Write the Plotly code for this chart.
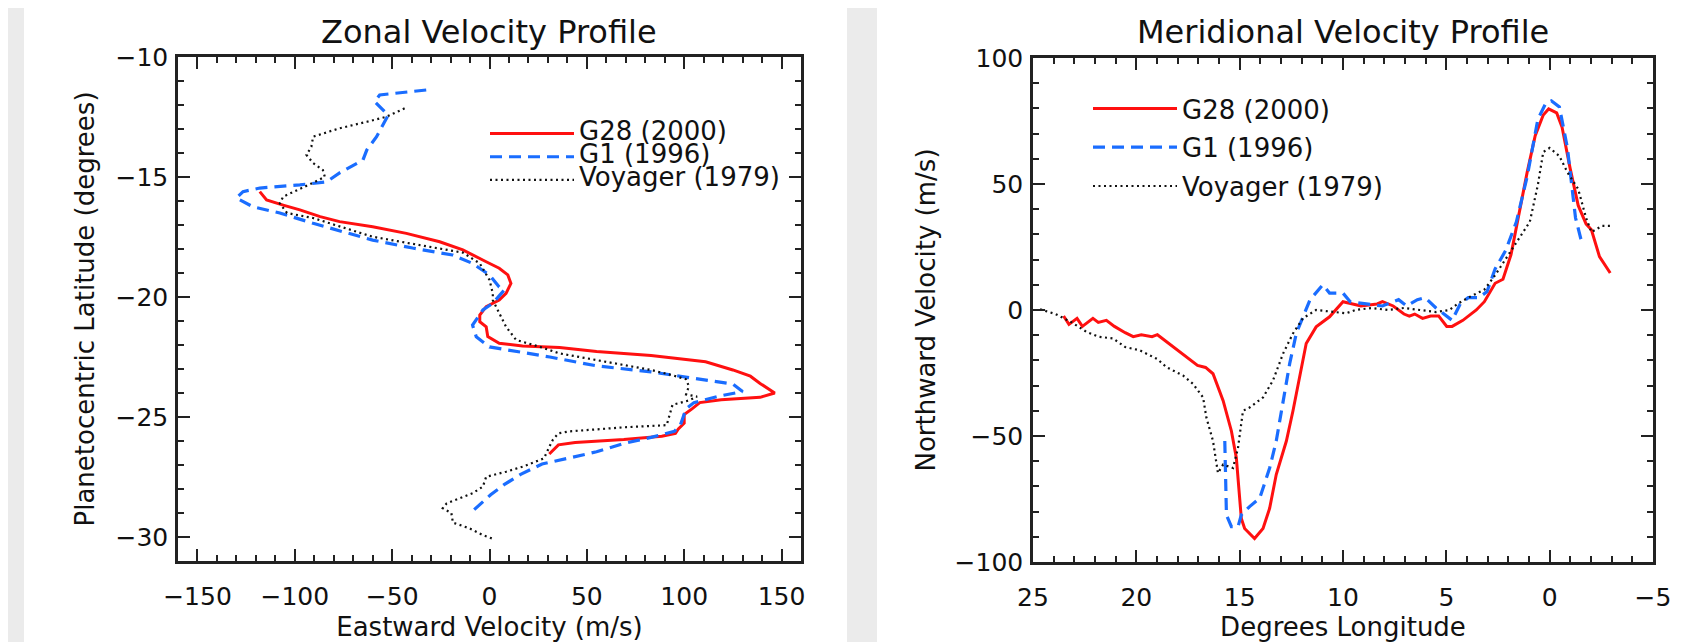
import plotly.graph_objects as go

# ---------------- Data: Zonal velocity profile (left) ----------------
g28_zonal_v = [-118, -114.5, -106, -97.4, -87, -77, -60, -42.7, -25.6, -13.7,
               -1.7, 5, 9.4, 11, 8.5, 5, -1.7, -5, -5, -1.7,
               -0.9, 5, 17, 36, 55, 83, 111, 125, 134, 139,
               146.5, 139, 119, 108, 104, 100, 100, 97, 95.5, 88.5,
               69, 44, 35.4, 32.7, 30.7]
g28_zonal_lat = [-15.61, -15.96, -16.17, -16.37, -16.65, -16.86, -17.07, -17.35, -17.7, -18.04,
                 -18.53, -18.8, -19.08, -19.43, -19.85, -20.13, -20.4, -20.75, -21.03, -21.24,
                 -21.65, -21.93, -22.04, -22.1, -22.27, -22.44, -22.7, -23.04, -23.3, -23.6,
                 -24.0, -24.18, -24.28, -24.4, -24.66, -24.9, -25.26, -25.5, -25.68, -25.8,
                 -25.94, -26.06, -26.16, -26.37, -26.54]

g1_zonal_v = [-32.5, -56.4, -59, -56.4, -52, -58, -63, -65, -77, -83.7,
              -97.4, -118, -126.6, -130, -121.5, -107.7, -90.6, -60, -39.5, -19,
              -8.7, 0, 5, 7.7, 1.7, -3.4, -8.7, -6.8, 0, 31,
              55, 83, 105, 125, 130, 119, 105, 101, 98, 95,
              83, 69, 55, 41, 27, 16, 7.5, 0.6, -5, -9.8]
g1_zonal_lat = [-11.375, -11.58, -11.86, -12.07, -12.42, -13.32, -13.87, -14.29, -14.83, -15.2,
                -15.33, -15.46, -15.61, -15.88, -16.24, -16.5, -16.93, -17.63, -17.96, -18.25,
                -18.6, -19.08, -19.58, -19.7, -20.26, -20.54, -21.17, -21.66, -22.08, -22.5,
                -22.87, -23.12, -23.38, -23.63, -23.94, -24.11, -24.4, -24.66, -25.34, -25.6,
                -25.85, -26.1, -26.45, -26.7, -26.96, -27.39, -27.82, -28.24, -28.67, -29.0]

voy_zonal_v = [-43.6, -53, -63, -77, -90.6, -91.5, -94, -90.6, -85.6, -84.6,
               -90.6, -99, -106, -107.7, -106, -104, -90.6, -77, -60, -42.7,
               -25.6, -13.7, -5, 0, 1.7, 1.7, 5, 8.5, 13.7, 25.6,
               36, 60, 83, 94, 101, 102.4, 101, 106.6, 102, 94,
               92.7, 91, 69, 41, 35.4, 32.6, 31, 28, 17, 8.5,
               -1.7, -3.4, -8.7, -15.4, -22, -24, -19.6, -18.8, -10.3, -3.4,
               2.6]
voy_zonal_lat = [-12.14, -12.49, -12.7, -12.97, -13.32, -13.74, -14.08, -14.42, -14.71, -14.99,
                 -15.24, -15.54, -15.82, -16.1, -16.3, -16.5, -16.71, -17.07, -17.49, -17.74,
                 -17.97, -18.15, -18.6, -19.29, -19.85, -20.13, -20.67, -21.24, -21.79, -22.07,
                 -22.35, -22.7, -23.04, -23.26, -23.43, -23.72, -24.06, -24.15, -24.32, -24.49,
                 -24.91, -25.34, -25.43, -25.6, -25.68, -25.94, -26.2, -26.72, -27.07, -27.28,
                 -27.49, -27.9, -28.18, -28.39, -28.6, -28.8, -29.0, -29.4, -29.64, -29.92,
                 -30.1]

# ---------------- Data: Meridional velocity profile (right) ----------------
g28_merid_lon = [23.52, 23.26, 22.87, 22.61, 22.1, 21.84, 21.45, 21.06, 20.54, 20.15,
                 19.76, 19.24, 18.98, 18.46, 17.94, 17.56, 17.04, 16.65, 16.29, 15.8,
                 15.4, 15.16, 15.0, 14.92, 14.76, 14.28, 13.87, 13.55, 13.23, 12.74,
                 12.42, 12.1, 11.78, 11.3, 10.65, 10.0, 9.13, 8.35, 8.09, 7.57,
                 7.05, 6.79, 6.53, 6.15, 5.76, 5.37, 4.98, 4.72, 4.2, 3.55,
                 3.16, 2.64, 2.26, 1.87, 1.48, 1.09, 0.7, 0.31, 0.05, -0.34,
                 -0.6, -0.99, -1.38, -1.76, -2.02, -2.41, -2.93]
g28_merid_v = [-2.4, -5.7, -3.3, -6.5, -3.3, -4.9, -4.1, -6.5, -9, -10.6,
               -9.8, -10.6, -9.8, -13, -16.3, -18.7, -22, -22.8, -25.3, -36,
               -48, -58.7, -74.7, -82.7, -86.7, -90.7, -86.7, -78.7, -65.3, -52,
               -40, -26.7, -13.3, -6.7, -2.7, 3.3, 1.6, 2.4, 3.3, 1.6,
               -1.6, -2.4, -1.6, -3.3, -2.4, -2.4, -6.5, -6.5, -4.1, 0,
               3.3, 10.6, 12.2, 22, 38.3, 54.6, 69.2, 77.4, 79.8, 78.2,
               72.5, 56.2, 41.5, 34.2, 31.8, 21.2, 14.7]

g1_merid_lon = [15.72, 15.64, 15.4, 15.08, 14.92, 14.52, 14.03, 13.55, 13.23, 12.9,
                12.58, 12.26, 11.94, 11.6, 10.98, 10.65, 10.0, 9.65, 8.87, 8.09,
                7.31, 6.92, 6.4, 6.02, 5.5, 4.72, 4.33, 3.94, 3.42, 3.03,
                2.64, 2.13, 1.61, 1.09, 0.57, 0.18, -0.08, -0.47, -0.86, -1.12,
                -1.25, -1.5, -1.63]
g1_merid_v = [-52, -81.3, -86, -86, -81.3, -78, -74.7, -62.7, -52, -36,
              -21.3, -9.3, -2.7, 4, 10, 6.7, 6.7, 3.3, 2.4, 1.6,
              4.1, 1.6, 4.1, 4.9, 0.8, -4.1, 2.4, 4.9, 4.9, 7.3,
              16.3, 23.6, 35, 52.9, 75.7, 82.2, 83, 80.6, 64.3, 44.8,
              36.6, 28.5, 26.1]

voy_merid_lon = [24.66, 23.91, 23.13, 22.41, 21.84, 21.12, 20.54, 19.83, 18.98, 18.54,
                 17.74, 17.26, 16.77, 16.61, 16.29, 16.05, 15.8, 15.32, 15.08, 14.84,
                 14.52, 13.87, 13.39, 12.9, 12.42, 11.94, 11.3, 10.49, 9.85, 9.39,
                 8.61, 7.83, 7.05, 6.28, 5.5, 4.85, 4.46, 3.94, 3.16, 2.64,
                 1.99, 1.48, 0.96, 0.57, 0.31, 0, -0.47, -0.86, -1.38, -1.76,
                 -2.02, -2.54, -2.93]
voy_merid_v = [0.3, -1.6, -4.9, -8.7, -10.6, -11.3, -14.7, -16, -19.5, -22.7,
               -26, -29.3, -34.7, -42.7, -52, -64.7, -61.3, -62.7, -54.7, -40,
               -38.7, -34.7, -28, -17.3, -9.3, -3.3, 0, -0.7, -1.3, 0,
               0.8, 0, 0.8, 0, -0.8, 0, 2.4, 4.9, 8.1, 13.8,
               22, 28.5, 35, 49.7, 62.7, 64.3, 61.1, 54.6, 48, 36.6,
               30.9, 33.4, 33.4]

series_names = ["G28 (2000)", "G1 (1996)", "Voyager (1979)"]
zonal_xticks = [-150, -100, -50, 0, 50, 100, 150]
zonal_yticks = [-30, -25, -20, -15, -10]
merid_xticks = [25, 20, 15, 10, 5, 0, -5]
merid_yticks = [-100, -50, 0, 50, 100]

# ---------------- Styling ----------------
FONT = "DejaVu Sans"
RED = "#ff1010"
BLUE = "#1a6dff"
BLACK = "#111111"
AXC = "#222222"
OFF = 8                      # page body margin of the written html
W, H = 1681 - OFF, 642 - OFF

styles = [
    dict(color=RED, width=3, dash="solid"),
    dict(color=BLUE, width=3.2, dash="12px,7px"),
    dict(color=BLACK, width=2.2, dash="2px,3.5px"),
]

fig = go.Figure()

zonal = [(g28_zonal_v, g28_zonal_lat), (g1_zonal_v, g1_zonal_lat), (voy_zonal_v, voy_zonal_lat)]
merid = [(g28_merid_lon, g28_merid_v), (g1_merid_lon, g1_merid_v), (voy_merid_lon, voy_merid_v)]

for i, (xs, ys) in enumerate(zonal):
    fig.add_trace(go.Scatter(
        x=xs, y=ys, mode="lines",
        name='<span style="font-size:26px">%s</span>' % series_names[i],
        line=styles[i], xaxis="x", yaxis="y",
        legend="legend", legendgroup="a%d" % i))
for i, (xs, ys) in enumerate(merid):
    fig.add_trace(go.Scatter(
        x=xs, y=ys, mode="lines", name=series_names[i],
        line=styles[i], xaxis="x2", yaxis="y2",
        legend="legend2", legendgroup="b%d" % i))


def px_x(p):
    return (p - OFF) / W


def px_y(p):
    return 1 - (p - OFF) / H


axis_common = dict(
    showline=True, linecolor=AXC, linewidth=2.5, mirror="allticks",
    ticks="inside", ticklen=12, tickwidth=2, tickcolor=AXC,
    showgrid=False, zeroline=False, automargin=False,
    tickfont=dict(family=FONT, size=25, color="#111111"),
    title_font=dict(family=FONT, size=26, color="#111111"),
)

fig.update_layout(
    width=W, height=H,
    margin=dict(l=0, r=0, t=0, b=0),
    paper_bgcolor="#ebebeb",
    plot_bgcolor="white",
    showlegend=True,
    xaxis=dict(axis_common, domain=[px_x(178), px_x(801)], range=[-160, 160],
               tickvals=zonal_xticks, anchor="y", ticklabelstandoff=11,
               minor=dict(ticks="inside", dtick=10, ticklen=6, tickwidth=2, tickcolor=AXC),
               title=dict(text="Eastward Velocity (m/s)", standoff=10)),
    yaxis=dict(axis_common, domain=[px_y(561), px_y(57)], range=[-31, -10],
               tickvals=zonal_yticks, anchor="x", ticklabelstandoff=2,
               minor=dict(ticks="inside", dtick=1, ticklen=6, tickwidth=2, tickcolor=AXC),
               title=dict(text="Planetocentric Latitude (degrees)", standoff=14)),
    xaxis2=dict(axis_common, domain=[px_x(1033), px_x(1653)], range=[25, -5],
                tickvals=merid_xticks, anchor="y2", ticklabelstandoff=11,
                minor=dict(ticks="inside", dtick=1, ticklen=6, tickwidth=2, tickcolor=AXC),
                title=dict(text="Degrees Longitude", standoff=10)),
    yaxis2=dict(axis_common, domain=[px_y(562), px_y(58)], range=[-100, 100],
                tickvals=merid_yticks, anchor="x2", ticklabelstandoff=2,
                minor=dict(ticks="inside", dtick=10, ticklen=6, tickwidth=2, tickcolor=AXC),
                title=dict(text="Northward Velocity (m/s)", standoff=12)),
    legend=dict(x=px_x(485), y=px_y(117), xanchor="left", yanchor="top",
                bgcolor="rgba(0,0,0,0)", borderwidth=0, itemwidth=84,
                font=dict(family=FONT, size=15.5, color="#111111"),
                tracegroupgap=0, itemclick=False),
    legend2=dict(x=px_x(1088), y=px_y(85), xanchor="left", yanchor="top",
                 bgcolor="rgba(0,0,0,0)", borderwidth=0, itemwidth=84,
                 font=dict(family=FONT, size=26, color="#111111"),
                 tracegroupgap=2, itemclick=False),
    shapes=[
        dict(type="rect", xref="paper", yref="paper", layer="below",
             x0=px_x(24), x1=px_x(847), y0=-0.05, y1=px_y(6),
             fillcolor="white", line=dict(width=0)),
        dict(type="rect", xref="paper", yref="paper", layer="below",
             x0=px_x(877), x1=px_x(1700), y0=-0.05, y1=px_y(6),
             fillcolor="white", line=dict(width=0)),
    ],
    annotations=[
        dict(text="Zonal Velocity Profile", xref="paper", yref="paper",
             x=px_x(489), y=px_y(32), xanchor="center", yanchor="middle",
             showarrow=False, font=dict(family=FONT, size=32, color="#111111")),
        dict(text="Meridional Velocity Profile", xref="paper", yref="paper",
             x=px_x(1343), y=px_y(32), xanchor="center", yanchor="middle",
             showarrow=False, font=dict(family=FONT, size=32, color="#111111")),
    ],
)

fig.write_html("out.html")
